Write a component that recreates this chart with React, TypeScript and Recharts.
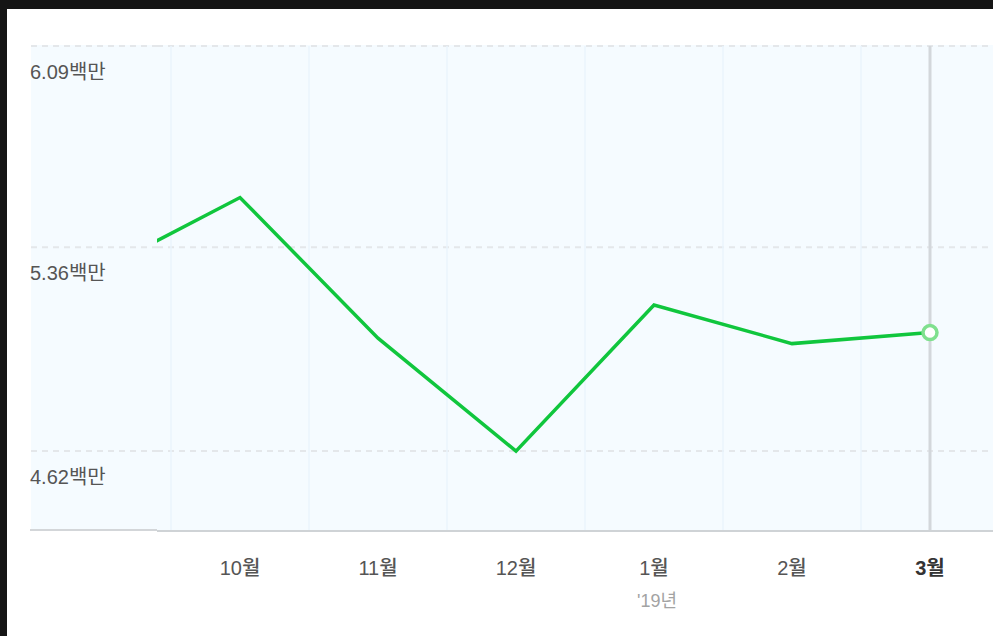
import { LineChart, Line, XAxis, YAxis, CartesianGrid, ReferenceLine, ReferenceDot } from 'recharts';

const months = ['9월', '10월', '11월', '12월', '1월', '2월', '3월'];
const views = [5.28, 5.54, 5.03, 4.62, 5.15, 5.01, 5.05];
const yearLabels = ['', '', '', '', "'19년", '', ''];
const yTicks = [4.62, 5.36, 6.09];
const selected = 6;

const data = months.map((m, i) => ({ idx: i, month: m, value: views[i] }));
const xTicks = months.map((_, i) => i).filter((i) => i > 0);
const boundaries = months.map((_, i) => i + 0.5);

const FONT = "'Liberation Sans', 'Noto Sans CJK KR', sans-serif";

const YTick = (props: any) => {
  const { y, payload } = props;
  return (
    <g>
      <line x1={31} x2={157} y1={y} y2={y} stroke="#e4e7ea" strokeWidth={2} strokeDasharray="6 5" />
      <text x={30} y={y + 33} fontSize={20} fill="#555" fontFamily={FONT} textAnchor="start">
        {payload.value.toFixed(2)}백만
      </text>
    </g>
  );
};

const XTick = (props: any) => {
  const { x, y, payload } = props;
  const i = payload.value;
  const isSel = i === selected;
  return (
    <g>
      <text
        x={x}
        y={y + 44}
        fontSize={20}
        fontFamily={FONT}
        fontWeight={isSel ? 700 : 500}
        fill={isSel ? '#333' : '#555'}
        textAnchor="middle"
      >
        {months[i]}
      </text>
      {yearLabels[i] ? (
        <text x={x + 3} y={y + 76} fontSize={18} fontFamily={FONT} fill="#a3a3a3" textAnchor="middle">
          {yearLabels[i]}
        </text>
      ) : null}
    </g>
  );
};

export default function App() {
  return (
    <div
      style={{
        position: 'fixed',
        left: 0,
        top: 0,
        width: 993,
        height: 636,
        background: '#151515',
        overflow: 'hidden',
      }}
    >
      <div style={{ position: 'absolute', left: 7, top: 9, width: 1000, height: 640, background: '#fff' }} />
      <div style={{ position: 'absolute', left: 31, top: 45, width: 1000, height: 486, background: '#f5fbff' }} />
      <div style={{ position: 'absolute', left: 30, top: 529, width: 127, height: 2, background: '#d3d6d9' }} />
      <div style={{ position: 'absolute', left: 0, top: 0 }}>
        <LineChart width={1000} height={636} data={data} margin={{ top: 46, right: 0, bottom: 0, left: 31 }}>
          <CartesianGrid
            horizontal
            vertical={false}
            stroke="#e4e7ea"
            strokeWidth={2}
            strokeDasharray="6 5"
          />
          {boundaries.map((b) => (
            <ReferenceLine key={b} x={b} stroke="#eaf4fc" strokeWidth={1.5} strokeOpacity={1} ifOverflow="hidden" />
          ))}
          <ReferenceLine x={selected} stroke="#d3d7db" strokeWidth={3} strokeOpacity={1} />
          <XAxis
            dataKey="idx"
            type="number"
            domain={[55 / 138, 898 / 138]}
            allowDataOverflow
            ticks={xTicks}
            interval={0}
            height={105}
            tickSize={0}
            tickMargin={0}
            tickLine={false}
            axisLine={{ stroke: '#cfd3d6', strokeWidth: 2 }}
            tick={<XTick />}
          />
          <YAxis
            type="number"
            domain={[4.33, 6.09]}
            ticks={yTicks}
            width={126}
            axisLine={false}
            tickLine={false}
            allowDataOverflow
            tick={<YTick />}
          />
          <Line
            type="linear"
            dataKey="value"
            stroke="#10c63d"
            strokeWidth={3.5}
            dot={false}
            activeDot={false}
            isAnimationActive={false}
          />
          <ReferenceDot
            x={selected}
            y={views[selected]}
            r={7}
            fill="#fff"
            stroke="#7fe08e"
            strokeWidth={3.5}
          />
        </LineChart>
      </div>
    </div>
  );
}
